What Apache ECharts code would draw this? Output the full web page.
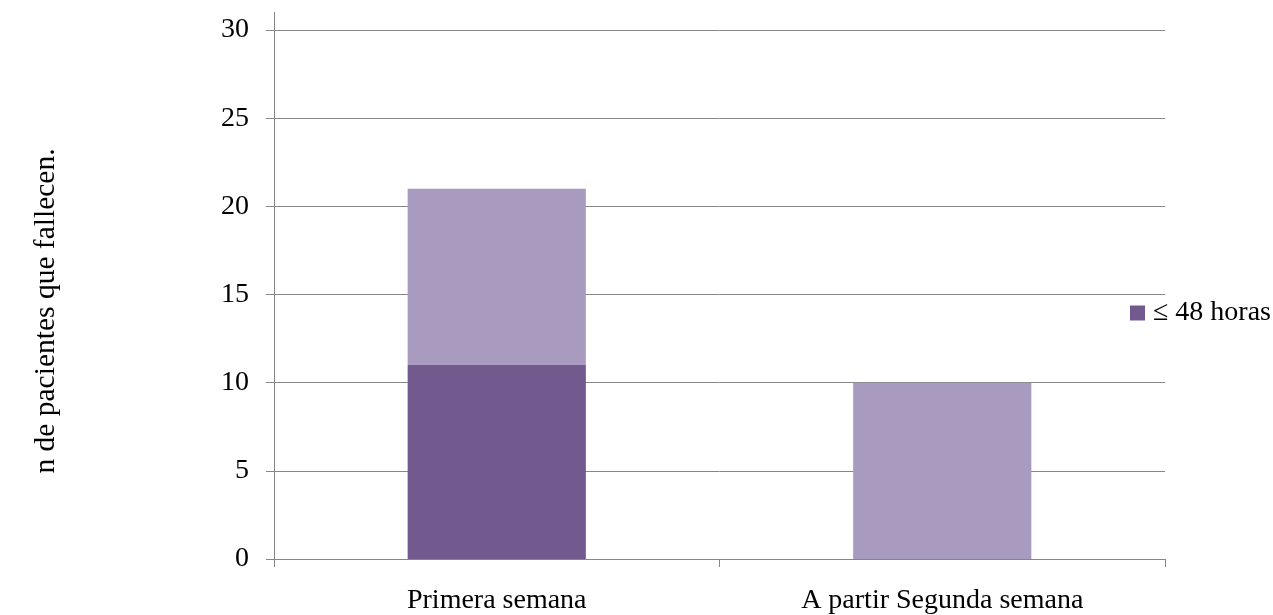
<!DOCTYPE html>
<html>
<head>
<meta charset="utf-8">
<script src="https://cdn.jsdelivr.net/npm/echarts@6/dist/echarts.min.js"></script>
<style>
  html, body { margin: 0; padding: 0; background: #fff; overflow: hidden; }
  #chart { width: 1273px; height: 615px; }
</style>
</head>
<body>
<div id="chart"></div>
<script>
// Deaths by time after admission, stacked per period
const categories = ['Primera semana', 'A partir Segunda semana'];
const within48h = [11, 0];
const after48h = [10, 10];
const yTicks = [0, 5, 10, 15, 20, 25, 30];
const yTitle = 'n de pacientes que fallecen.';

const serif = '"Liberation Serif", "DejaVu Serif", serif';
const axisGrey = '#868686';
const gridLeft = 274;
const gridTop = 30;

const chart = echarts.init(document.getElementById('chart'));
chart.setOption({
  animation: false,
  backgroundColor: '#ffffff',
  grid: {
    left: gridLeft, right: 108, top: gridTop, bottom: 56,
    containLabel: false,
    outerBoundsMode: 'none'
  },
  legend: {
    data: ['≤ 48 horas'],
    orient: 'vertical',
    left: 1125,
    top: 294,
    itemWidth: 15,
    itemHeight: 15,
    itemGap: 6,
    icon: 'rect',
    textStyle: { fontFamily: serif, fontSize: 28, color: '#000', padding: [1, 0, 0, 3] }
  },
  xAxis: {
    type: 'category',
    data: categories,
    axisLine: { lineStyle: { color: axisGrey, width: 1 } },
    axisTick: { show: true, length: 8, lineStyle: { color: axisGrey } },
    axisLabel: { fontFamily: serif, fontSize: 28, color: '#000', margin: 28 },
    splitLine: { show: false }
  },
  yAxis: {
    type: 'value',
    min: yTicks[0],
    max: yTicks[yTicks.length - 1],
    interval: 5,
    axisLine: { show: true, lineStyle: { color: axisGrey, width: 1 } },
    axisTick: { show: true, length: 8, lineStyle: { color: axisGrey } },
    axisLabel: { fontFamily: serif, fontSize: 28, color: '#000', margin: 25 },
    splitLine: { show: true, lineStyle: { color: axisGrey, width: 1 } }
  },
  graphic: [
    {
      // value axis line continues a little above the top gridline
      type: 'line',
      shape: { x1: gridLeft + 0.5, y1: gridTop - 18, x2: gridLeft + 0.5, y2: gridTop },
      style: { stroke: axisGrey, lineWidth: 1 },
      silent: true
    },
    {
      type: 'text',
      x: 46,
      y: 311,
      rotation: Math.PI / 2,
      style: {
        text: yTitle,
        fontFamily: serif,
        fontSize: 29.5,
        fill: '#000',
        textAlign: 'center',
        textVerticalAlign: 'middle'
      },
      silent: true
    }
  ],
  series: [
    {
      name: '≤ 48 horas',
      type: 'bar',
      stack: 'total',
      data: within48h,
      barWidth: '40%',
      itemStyle: { color: '#725a8e' }
    },
    {
      name: '> 48 horas',
      type: 'bar',
      stack: 'total',
      data: after48h,
      barWidth: '40%',
      itemStyle: { color: '#a99abf' }
    }
  ]
});
</script>
</body>
</html>
